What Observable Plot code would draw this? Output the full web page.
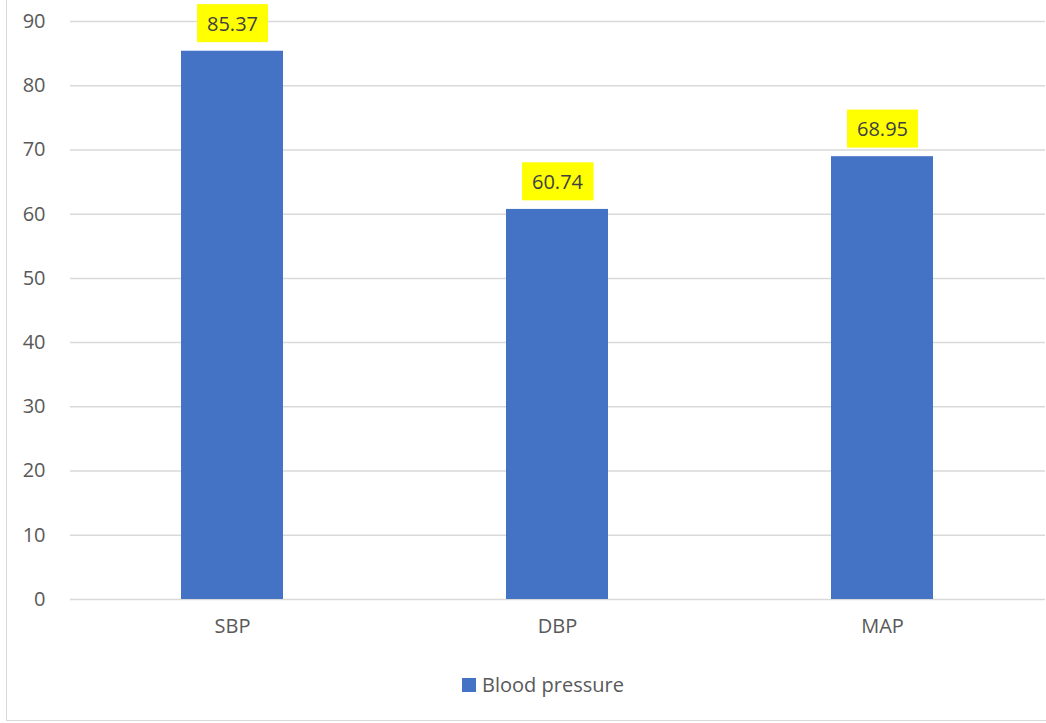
<!DOCTYPE html>
<html>
<head>
<meta charset="utf-8">
<script src="https://cdn.jsdelivr.net/npm/d3@7"></script>
<script src="https://cdn.jsdelivr.net/npm/@observablehq/plot@0.6"></script>
<style>
  html, body { margin: 0; padding: 0; background: #fff; }
  #wrap { position: relative; width: 1046px; height: 723px; overflow: hidden; font-family: "Open Sans", sans-serif; }
  #frame { position: absolute; left: 6px; top: -2px; width: 1050px; height: 723px; border: 1.5px solid #d9d9d9; box-sizing: border-box; }
  #chart { position: absolute; left: 0; top: 0; }
  #legend { position: absolute; left: 0; top: 671px; width: 1046px; box-sizing: border-box; padding-left: 40px; display: flex; justify-content: center; align-items: center; font-size: 20px; color: #595959; }
  #legend .sw { width: 14px; height: 14px; background: #4472c4; margin-right: 6px; }
</style>
</head>
<body>
<div id="wrap">
  <div id="frame"></div>
  <div id="chart"></div>
  <div id="legend"></div>
</div>
<script>
const categories = ["SBP", "DBP", "MAP"];
const values = [85.37, 60.74, 68.95];
const yTicks = [0, 10, 20, 30, 40, 50, 60, 70, 80, 90];
const seriesName = "Blood pressure";
const barColor = "#4472c4";

const data = categories.map((c, i) => ({category: c, value: values[i]}));
const fmt = v => v.toFixed(2);

const chart = Plot.plot({
  width: 1046,
  height: 650,
  marginLeft: 70,
  marginRight: 1,
  marginTop: 21,
  marginBottom: 51,
  style: {fontFamily: "'Open Sans', sans-serif", fontSize: "20px", color: "#595959", background: "transparent"},
  x: {domain: categories, paddingInner: 0.686, paddingOuter: 0.343, label: null},
  y: {domain: [0, 90], label: null},
  marks: [
    Plot.ruleY(yTicks, {stroke: "#d9d9d9", strokeWidth: 1.5}),
    Plot.barY(data, {x: "category", y: "value", fill: barColor}),
    Plot.axisY({ticks: yTicks, tickSize: 0, tickPadding: 25, label: null, fontSize: 20, fill: "#595959"}),
    Plot.axisX({tickSize: 0, tickPadding: 19, label: null, fontSize: 20, fill: "#595959"}),
    Plot.text(data, {x: "category", y: "value", text: d => fmt(d.value), dy: -27, fontSize: 20, fill: "#404040", lineAnchor: "middle"})
  ]
});
document.getElementById("chart").appendChild(chart);

// yellow highlight boxes behind value labels
const labelSet = new Set(values.map(fmt));
Array.from(chart.querySelectorAll("text")).filter(t => labelSet.has(t.textContent.trim())).forEach(t => {
  const b = t.getBBox();
  const r = document.createElementNS("http://www.w3.org/2000/svg", "rect");
  const w = b.width + 20, h = 38;
  const tr = t.getAttribute("transform");
  r.setAttribute("x", b.x + b.width / 2 - w / 2);
  r.setAttribute("y", b.y + b.height / 2 - h / 2);
  r.setAttribute("width", w);
  r.setAttribute("height", h);
  r.setAttribute("fill", "#ffff00");
  if (tr) r.setAttribute("transform", tr);
  t.parentNode.insertBefore(r, t);
});

const lg = document.getElementById("legend");
lg.innerHTML = `<div class="sw"></div><span>${seriesName}</span>`;
</script>
</body>
</html>
